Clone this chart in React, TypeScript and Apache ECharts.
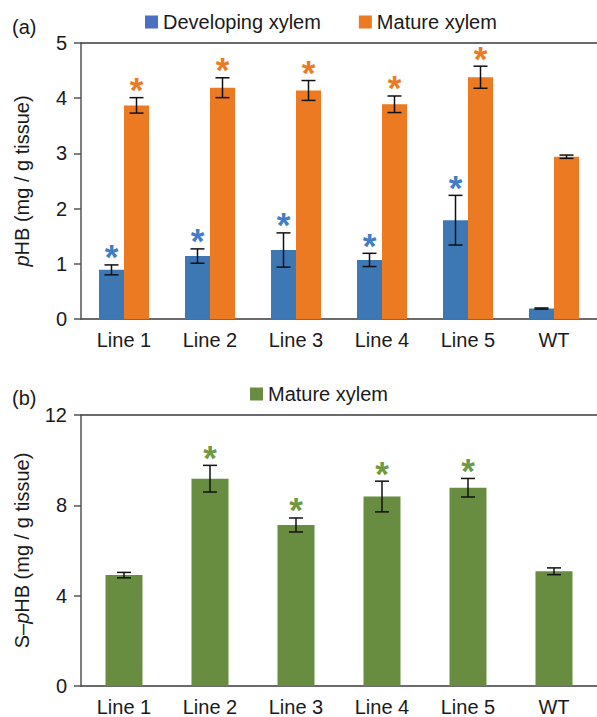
import React, { useEffect, useRef } from "react";
import * as echarts from "echarts";

const categories = ["Line 1", "Line 2", "Line 3", "Line 4", "Line 5", "WT"];
const developing = [0.89, 1.14, 1.25, 1.07, 1.79, 0.19];
const developingErr = [0.09, 0.13, 0.31, 0.12, 0.45, 0.01];
const mature = [3.87, 4.19, 4.14, 3.89, 4.38, 2.94];
const matureErr = [0.14, 0.18, 0.18, 0.15, 0.2, 0.03];
const sigA = [1, 1, 1, 1, 1, 0];
const sHB = [4.91, 9.18, 7.13, 8.39, 8.78, 5.08];
const sHBErr = [0.12, 0.59, 0.31, 0.68, 0.41, 0.15];
const sigB = [0, 1, 1, 1, 1, 0];
const yTicksA = { min: 0, max: 5, interval: 1 };
const yTicksB = { min: 0, max: 12, interval: 4 };

const FONT = "'Liberation Sans', Arial, sans-serif";
const BLUE = "#3d78b5";
const BLUE_STAR = "#3f7dc6";
const BLUE_LEG = "#4a70c0";
const ORANGE = "#ec7a22";
const GREEN = "#688c40";
const GREEN_STAR = "#6a9a43";
const TXT = "#1a1a1a";

function errSeries(
  values: number[],
  errs: number[],
  sig: number[],
  offset: number,
  starColor: string,
  xAxisIndex: number,
  yAxisIndex: number
) {
  return {
    type: "custom",
    xAxisIndex,
    yAxisIndex,
    silent: true,
    z: 10,
    data: values.map((v, i) => [i, v, errs[i], sig[i]]),
    renderItem: (params: any, api: any) => {
      const i = api.value(0);
      const v = api.value(1);
      const e = api.value(2);
      const s = api.value(3);
      const top = api.coord([i, v + e]);
      const bot = api.coord([i, v - e]);
      const x = top[0] + offset;
      const cap = 7;
      const ls = { stroke: "#111", lineWidth: 1.5 };
      const children: any[] = [
        { type: "line", shape: { x1: x, y1: top[1], x2: x, y2: bot[1] }, style: ls },
        { type: "line", shape: { x1: x - cap, y1: top[1], x2: x + cap, y2: top[1] }, style: ls },
        { type: "line", shape: { x1: x - cap, y1: bot[1], x2: x + cap, y2: bot[1] }, style: ls },
      ];
      if (s) {
        children.push({
          type: "text",
          x: x,
          y: top[1] - 8,
          style: {
            text: "*",
            fontSize: 35,
            fontWeight: "bold",
            fontFamily: FONT,
            fill: starColor,
            align: "center",
            verticalAlign: "middle",
          },
        });
      }
      return { type: "group", children };
    },
  };
}

export default function App() {
  const ref = useRef<HTMLDivElement>(null);
  useEffect(() => {
    const chart = echarts.init(ref.current!, undefined, { renderer: "svg" });
    const axisLineDark = { lineStyle: { color: "#3a3a3a", width: 1.5 } };
    const xAxisBase = (gridIndex: number) => [
      {
        type: "category",
        gridIndex,
        data: categories,
        position: "bottom",
        axisLine: { show: true, ...axisLineDark },
        axisTick: { show: false },
        axisLabel: { color: TXT, fontSize: 20, fontFamily: FONT, margin: 11 },
      },
      {
        type: "category",
        gridIndex,
        data: categories,
        position: "top",
        axisLine: { show: true, ...axisLineDark },
        axisTick: { show: false },
        axisLabel: { show: false },
      },
    ];
    const yAxisBase = (gridIndex: number, t: any, name: string) => ({
      type: "value",
      gridIndex,
      ...t,
      name,
      nameLocation: "middle",
      nameRotate: 90,
      nameGap: 49,
      nameTextStyle: {
        color: TXT,
        fontSize: 20,
        fontFamily: FONT,
        rich: { i: { fontStyle: "italic", fontSize: 20, fontFamily: FONT, color: TXT } },
      },
      axisLine: { show: true, lineStyle: { color: "#555", width: 1.5 } },
      axisTick: { show: true, inside: false, length: 7, lineStyle: { color: "#555", width: 1.5 } },
      splitLine: { show: false },
      axisLabel: { color: TXT, fontSize: 20, fontFamily: FONT, margin: 14 },
    });
    const xa = xAxisBase(0);
    const xb = xAxisBase(1);
    chart.setOption({
      animation: false,
      textStyle: { fontFamily: FONT },
      grid: [
        { left: 81, right: -5, top: 43, height: 276 },
        { left: 81, right: -5, top: 415, height: 276 },
      ],
      legend: [
        {
          left: 145,
          top: 12,
          padding: 0,
          itemWidth: 13,
          itemHeight: 13,
          itemGap: 38,
          icon: "rect",
          textStyle: { color: TXT, fontSize: 20, fontFamily: FONT },
          data: [
            { name: "Developing xylem", itemStyle: { color: BLUE_LEG } },
            { name: "Mature xylem", itemStyle: { color: ORANGE } },
          ],
        },
        {
          left: 250,
          top: 384,
          padding: 0,
          itemWidth: 13,
          itemHeight: 13,
          icon: "rect",
          textStyle: { color: TXT, fontSize: 20, fontFamily: FONT },
          data: [{ name: "Mature xylem ", itemStyle: { color: GREEN } }],
          formatter: (n: string) => n.trim(),
        },
      ],
      graphic: [
        { type: "text", left: 12, top: 17, style: { text: "(a)", fontSize: 20, fontFamily: FONT, fill: TXT } },
        { type: "text", left: 12, top: 388, style: { text: "(b)", fontSize: 20, fontFamily: FONT, fill: TXT } },
      ],
      xAxis: [xa[0], xa[1], { ...xb[0] }, { ...xb[1] }],
      yAxis: [
        yAxisBase(0, yTicksA, "{i|p}HB (mg / g tissue)"),
        yAxisBase(1, yTicksB, "S–{i|p}HB (mg / g tissue)"),
      ],
      series: [
        {
          name: "Developing xylem",
          type: "bar",
          xAxisIndex: 0,
          yAxisIndex: 0,
          data: developing,
          barWidth: 25,
          barGap: "0%",
          itemStyle: { color: BLUE },
        },
        {
          name: "Mature xylem",
          type: "bar",
          xAxisIndex: 0,
          yAxisIndex: 0,
          data: mature,
          barWidth: 25,
          barGap: "0%",
          itemStyle: { color: ORANGE },
        },
        errSeries(developing, developingErr, sigA, -12.5, BLUE_STAR, 0, 0),
        errSeries(mature, matureErr, sigA, 12.5, ORANGE, 0, 0),
        {
          name: "Mature xylem ",
          type: "bar",
          xAxisIndex: 2,
          yAxisIndex: 1,
          data: sHB,
          barWidth: 37,
          itemStyle: { color: GREEN },
        },
        errSeries(sHB, sHBErr, sigB, 0, GREEN_STAR, 2, 1),
      ],
    });
    return () => chart.dispose();
  }, []);
  return (
    <div
      ref={ref}
      style={{ position: "fixed", left: 0, top: 0, width: 597, height: 717, background: "#fff" }}
    />
  );
}
